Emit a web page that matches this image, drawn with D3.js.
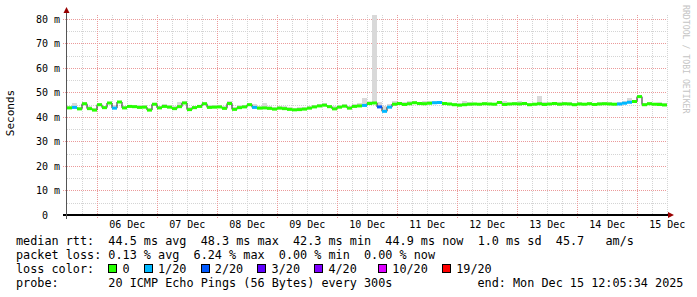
<!DOCTYPE html>
<html>
<head>
<meta charset="utf-8">
<script src="https://cdn.jsdelivr.net/npm/d3@7"></script>
<style>
  body { margin: 0; background: #fff; }
  svg { display: block; }
  text { font-family: "DejaVu Sans Mono", monospace; fill: #000; }
</style>
</head>
<body>
<svg width="697" height="297"></svg>
<script>
// median rtt per 2-hour step (ms)
const medianMs = [
  43.7, 43.9, 43.3, 45.4, 43.4, 42.8, 45.0, 43.8, 45.7, 43.6,
  46.1, 43.7, 44.3, 44.2, 43.9, 44.0, 42.8, 45.2, 43.7, 44.3,
  44.0, 43.4, 44.2, 45.7, 43.0, 43.8, 44.3, 45.4, 43.9, 44.0,
  44.1, 43.5, 45.5, 43.1, 43.8, 44.1, 45.0, 43.9, 43.6, 43.7,
  43.5, 43.2, 43.6, 43.4, 43.1, 42.9, 43.0, 43.2, 43.6, 44.1,
  44.5, 44.8, 44.2, 43.3, 44.0, 44.4, 43.6, 44.3, 44.5, 44.7,
  45.5, 45.7, 44.1, 42.3, 44.0, 45.2, 45.5, 45.1, 45.4, 45.8,
  45.5, 45.4, 45.6, 45.8, 45.9, 45.5, 45.3, 45.0, 44.8, 45.0,
  45.2, 45.3, 45.2, 45.4, 45.3, 45.2, 45.9, 45.1, 45.3, 45.4,
  45.3, 45.5, 45.0, 45.2, 45.4, 45.1, 45.3, 45.5, 45.2, 45.4,
  45.3, 45.0, 45.3, 45.2, 45.4, 45.1, 45.3, 45.4, 45.3, 45.2,
  45.3, 45.6, 46.0, 46.3, 48.3, 45.0, 45.4, 45.2, 45.1, 44.9
];

// highest ping of each step (top of the smoke), ms
const smokeMaxMs = [
  44.6, 45.5, 44.2, 46.0, 44.3, 43.8, 45.8, 44.6, 46.3, 44.8,
  46.7, 44.5, 45.0, 45.0, 44.8, 44.8, 43.8, 45.9, 44.5, 45.2,
  44.8, 44.3, 46.1, 46.4, 44.0, 44.6, 45.0, 46.0, 44.7, 44.8,
  44.9, 44.4, 46.5, 44.0, 44.7, 45.0, 45.7, 45.2, 44.5, 45.6,
  44.4, 44.1, 44.5, 44.3, 44.0, 43.8, 44.0, 44.0, 44.5, 45.0,
  45.3, 45.5, 45.0, 44.5, 44.9, 45.2, 44.5, 45.2, 45.8, 47.6,
  46.5, 81.6, 46.0, 44.5, 45.3, 46.7, 46.2, 46.0, 46.5, 46.5,
  46.2, 46.6, 46.6, 46.5, 46.6, 46.1, 45.9, 45.7, 45.6, 46.4,
  46.2, 45.9, 45.8, 46.0, 45.9, 45.8, 46.6, 46.5, 45.9, 46.0,
  46.7, 46.1, 45.7, 45.9, 48.6, 46.3, 45.9, 46.1, 46.0, 46.1,
  46.1, 45.7, 46.1, 45.9, 46.0, 45.8, 46.0, 46.3, 46.0, 45.9,
  46.0, 46.5, 47.6, 47.0, 48.8, 45.7, 46.0, 45.9, 46.1, 45.6
];

// loss class of each step (index into lossColors)
const lossIdx = [
  0, 1, 0, 0, 0, 0, 0, 0, 0, 1,
  0, 0, 0, 0, 0, 0, 0, 0, 0, 0,
  0, 0, 0, 0, 0, 0, 0, 0, 0, 0,
  0, 0, 0, 0, 0, 0, 0, 1, 0, 0,
  0, 0, 0, 0, 0, 0, 0, 0, 0, 0,
  0, 0, 0, 0, 0, 0, 0, 0, 0, 1,
  0, 0, 2, 1, 1, 0, 0, 0, 0, 0,
  0, 0, 0, 1, 1, 0, 0, 0, 0, 0,
  0, 0, 0, 0, 0, 0, 0, 0, 0, 0,
  0, 0, 0, 0, 0, 0, 0, 0, 0, 0,
  0, 0, 0, 0, 0, 0, 0, 0, 0, 0,
  1, 1, 1, 0, 0, 0, 0, 0, 0, 0
];

const dayLabels = ["06 Dec", "07 Dec", "08 Dec", "09 Dec", "10 Dec",
                   "11 Dec", "12 Dec", "13 Dec", "14 Dec", "15 Dec"];
const yTickValues = [0, 10, 20, 30, 40, 50, 60, 70, 80];
const lossColors = ["#26ff00", "#00b8ff", "#0059ff", "#5e00ff", "#7e00ff", "#dd00ff", "#ff0000"];
const lossLabels = ["0", "1/20", "2/20", "3/20", "4/20", "10/20", "19/20"];
const lossBoxCols = [13, 18, 26, 34, 42, 51, 60];

const rttLine = "median rtt:  44.5 ms avg  48.3 ms max  42.3 ms min  44.9 ms now  1.0 ms sd  45.7   am/s";
const lossLine = "packet loss: 0.13 % avg  6.24 % max  0.00 % min  0.00 % now";
const probeLine = "probe:       20 ICMP Echo Pings (56 Bytes) every 300s";
const endLine = "end: Mon Dec 15 12:05:34 2025";

const svg = d3.select("svg");
const plot = { left: 67, right: 667, top: 15, bottom: 215 };

const start = Date.UTC(2025, 11, 5, 12, 5, 34);
const end = Date.UTC(2025, 11, 15, 12, 5, 34);
const stepMs = 2 * 3600 * 1000;

const xScale = d3.scaleUtc()
  .domain([new Date(start), new Date(end)])
  .range([plot.left, plot.right]);

const yScale = d3.scaleLinear()
  .domain([0, 81.6])
  .range([plot.bottom, plot.top]);

const points = medianMs.map((m, i) => ({
  t: new Date(start + i * stepMs),
  t2: new Date(start + (i + 1) * stepMs),
  m: m,
  hi: smokeMaxMs[i],
  loss: lossIdx[i],
}));

const px = (v) => Math.round(v) + 0.5;

// grid
const grid = svg.append("g").attr("shape-rendering", "crispEdges");
const minorColor = "#d4d4d4";
const majorColor = "#eb9a9a";

const midnights = d3.utcDay.range(new Date(start), new Date(end));
const sixHours = d3.utcHour.every(6).range(new Date(start), new Date(end))
  .filter((d) => d.getUTCHours() !== 0);

grid.selectAll(".vminor").data(sixHours).enter().append("line")
  .attr("x1", (d) => px(xScale(d))).attr("x2", (d) => px(xScale(d)))
  .attr("y1", plot.top).attr("y2", plot.bottom)
  .attr("stroke", minorColor).attr("stroke-dasharray", "1,1");

grid.selectAll(".hminor").data(d3.range(5, 80, 10)).enter().append("line")
  .attr("x1", plot.left).attr("x2", plot.right)
  .attr("y1", (d) => px(yScale(d))).attr("y2", (d) => px(yScale(d)))
  .attr("stroke", minorColor).attr("stroke-dasharray", "1,1");

grid.selectAll(".vmajor").data(midnights).enter().append("line")
  .attr("x1", (d) => px(xScale(d))).attr("x2", (d) => px(xScale(d)))
  .attr("y1", plot.top).attr("y2", plot.bottom + 4)
  .attr("stroke", majorColor).attr("stroke-dasharray", "1,1");

grid.selectAll(".hmajor").data(yTickValues.filter((d) => d > 0)).enter().append("line")
  .attr("x1", plot.left - 4).attr("x2", plot.right)
  .attr("y1", (d) => px(yScale(d))).attr("y2", (d) => px(yScale(d)))
  .attr("stroke", majorColor).attr("stroke-dasharray", "1,1");

// smoke
const smokeArea = d3.area()
  .curve(d3.curveStepAfter)
  .x((d) => xScale(d.t))
  .y0((d) => yScale(d.m))
  .y1((d) => yScale(d.hi));

const stepPts = points.concat([{ t: new Date(end), m: points[points.length - 1].m, hi: points[points.length - 1].hi }]);

svg.append("path")
  .datum(stepPts)
  .attr("d", smokeArea)
  .attr("fill", "#d9d9d9")
  .attr("shape-rendering", "crispEdges");

// median: thin dark step line under thick loss-coloured segments
svg.append("path")
  .datum(stepPts)
  .attr("d", d3.line().curve(d3.curveStepAfter).x((d) => xScale(d.t)).y((d) => yScale(d.m)))
  .attr("fill", "none")
  .attr("stroke", "#202020")
  .attr("stroke-width", 1);

svg.selectAll(".med").data(points).enter().append("line")
  .attr("x1", (d) => xScale(d.t))
  .attr("x2", (d) => xScale(d.t2))
  .attr("y1", (d) => yScale(d.m))
  .attr("y2", (d) => yScale(d.m))
  .attr("stroke", (d) => lossColors[d.loss])
  .attr("stroke-width", 3);

// axes lines and arrows
svg.append("line")
  .attr("x1", 63).attr("x2", 669).attr("y1", 215).attr("y2", 215)
  .attr("stroke", "#000").attr("stroke-width", 2);
svg.append("line")
  .attr("x1", 66.5).attr("x2", 66.5).attr("y1", 219).attr("y2", 11)
  .attr("stroke", "#555").attr("stroke-width", 1);
svg.append("path").attr("d", "M63.5,13 L66.5,7 L69.5,13 Z").attr("fill", "#900");
svg.append("path").attr("d", "M668,212 L674,215 L668,218 Z").attr("fill", "#900");

// tick labels through d3 axes
const yAxisG = svg.append("g")
  .attr("transform", `translate(${plot.left},0)`)
  .call(d3.axisLeft(yScale).tickValues(yTickValues).tickSize(0).tickPadding(7)
    .tickFormat((d) => (d === 0 ? "0\u00a0\u00a0" : d + " m")));
yAxisG.select(".domain").remove();
yAxisG.selectAll("text").attr("font-family", "DejaVu Sans Mono").attr("font-size", 10);

const noons = midnights.map((d) => d3.utcHour.offset(d, 12));
const xAxisG = svg.append("g")
  .attr("transform", `translate(0,${plot.bottom})`)
  .call(d3.axisBottom(xScale).tickValues(noons).tickSize(0).tickPadding(6)
    .tickFormat((d, i) => dayLabels[i]));
xAxisG.select(".domain").remove();
xAxisG.selectAll("text").attr("font-family", "DejaVu Sans Mono").attr("font-size", 10);

// titles
svg.append("text")
  .attr("transform", "translate(14,113) rotate(-90)")
  .attr("text-anchor", "middle")
  .attr("font-size", 11)
  .text("Seconds");

svg.append("text")
  .attr("transform", "translate(683,5) rotate(90)")
  .attr("font-size", 8.2)
  .style("fill", "#c4c4c4")
  .text("RRDTOOL / TOBI OETIKER");

// legend
const cw = 7.1;
const legendX = 16;
const legendFont = 11.8;
const colX = (c) => legendX + c * cw;

function legendText(str, col, y) {
  svg.append("text")
    .attr("x", colX(col))
    .attr("y", y)
    .attr("font-size", legendFont)
    .style("white-space", "pre")
    .text(str);
}

legendText(rttLine, 0, 245);
legendText(lossLine, 0, 259);
legendText("loss color:", 0, 273);
legendText(probeLine, 0, 287);
legendText(endLine, 65, 287);

const lossKeys = svg.selectAll(".lossKey").data(lossLabels).enter().append("g");
lossKeys.append("rect")
  .attr("x", (d, i) => Math.round(colX(lossBoxCols[i])) + 0.5)
  .attr("y", 264.5)
  .attr("width", 8).attr("height", 8)
  .attr("fill", (d, i) => lossColors[i])
  .attr("stroke", "#000");
lossKeys.append("text")
  .attr("x", (d, i) => colX(lossBoxCols[i] + 2))
  .attr("y", 273)
  .attr("font-size", legendFont)
  .text((d) => d);
</script>
</body>
</html>
